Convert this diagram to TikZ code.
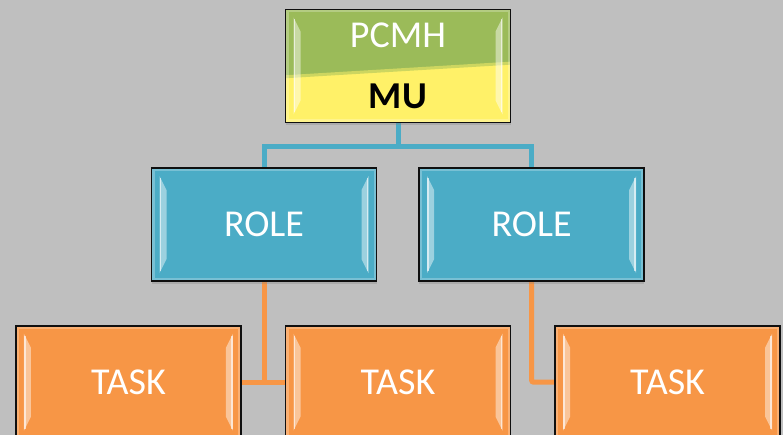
\documentclass[tikz,border=0pt]{standalone}
\usepackage{fontspec}
\setmainfont{Carlito}
\usetikzlibrary{positioning,calc,backgrounds,shadows}
\definecolor{canvas}{RGB}{191,191,191}
\definecolor{leaf}{RGB}{155,187,89}
\definecolor{lemon}{RGB}{255,241,104}
\definecolor{sea}{RGB}{75,172,198}
\definecolor{tang}{RGB}{247,150,70}
\definecolor{rim}{RGB}{15,15,15}

% light bevel strips down both sides of a box
\newcommand{\bevelstrips}{%
  \draw[white,opacity=.25,line width=6pt]
    (path picture bounding box.north west) rectangle (path picture bounding box.south east);
  \fill[white,opacity=.45]
    ([shift={(8,8)}]path picture bounding box.north west) -- ([shift={(15,22)}]path picture bounding box.north west)
    -- ([shift={(15,-22)}]path picture bounding box.south west) -- ([shift={(8,-8)}]path picture bounding box.south west) -- cycle;
  \fill[white,opacity=.45]
    ([shift={(-8,8)}]path picture bounding box.north east) -- ([shift={(-15,22)}]path picture bounding box.north east)
    -- ([shift={(-15,-22)}]path picture bounding box.south east) -- ([shift={(-8,-8)}]path picture bounding box.south east) -- cycle;
  \draw[white,opacity=.6,line width=1.5pt]
    ([shift={(9,10)}]path picture bounding box.north west) -- ([shift={(9,-10)}]path picture bounding box.south west);
  \draw[white,opacity=.6,line width=1.5pt]
    ([shift={(-9,10)}]path picture bounding box.north east) -- ([shift={(-9,-10)}]path picture bounding box.south east);
}

\tikzset{
  boxtext/.style={font=\fontsize{38}{45}\selectfont},
  box/.style={draw=rim,line width=1.6pt,minimum width=225pt,minimum height=113pt,
    text=white,boxtext,inner sep=0pt,
    drop shadow={shadow xshift=0pt,shadow yshift=-3pt,opacity=.3},
    path picture={\bevelstrips}},
  topbox/.style={box,fill=lemon,path picture={
    \fill[leaf] (path picture bounding box.north west) -- (path picture bounding box.north east)
      -- ($(path picture bounding box.north east)!0.47!(path picture bounding box.south east)$)
      -- ($(path picture bounding box.north west)!0.59!(path picture bounding box.south west)$) -- cycle;
    \draw[leaf!50!lemon,line width=3pt]
      ($(path picture bounding box.north east)!0.475!(path picture bounding box.south east)$)
      -- ($(path picture bounding box.north west)!0.595!(path picture bounding box.south west)$);
    \bevelstrips}},
  rolebox/.style={box,fill=sea},
  taskbox/.style={box,fill=tang},
  link/.style={line width=5pt},
}

\begin{document}
\begin{tikzpicture}[x=1pt,y=-1pt,node distance=43pt]
  \useasboundingbox (0,0) rectangle (783,435);
  \node[topbox] (pcmh) at (398,66) {};
  \node[boxtext,text=white] (pcmhtext) at ($(pcmh.center)+(0,-31)$) {PCMH};
  \node[boxtext,text=black] (mutext) at ($(pcmh.center)+(0,30)$) {\textbf{MU}};

  \node[rolebox,below=44pt of pcmh,xshift=-134pt] (roleA) {ROLE};
  \node[rolebox,right=41pt of roleA] (roleB) {ROLE};

  \node[taskbox,below=of roleA,xshift=134pt] (taskB) {TASK};
  \node[taskbox,left=of taskB] (taskA) {TASK};
  \node[taskbox,right=of taskB] (taskC) {TASK};

  \begin{scope}[on background layer]
    \fill[canvas] (0,0) rectangle (783,435);
    \draw[link,sea] (pcmh.south) -- ++(0,23) -| (roleA.north);
    \draw[link,sea] (pcmh.south) -- ++(0,23) -| (roleB.north);
    \draw[link,tang] (roleA.south) -- (roleA.south |- taskA.east);
    \draw[link,tang] (taskA.east) -- (taskB.west);
    \draw[link,tang,rounded corners=2pt] (roleB.south) |- (taskC.west);
  \end{scope}
\end{tikzpicture}
\end{document}
